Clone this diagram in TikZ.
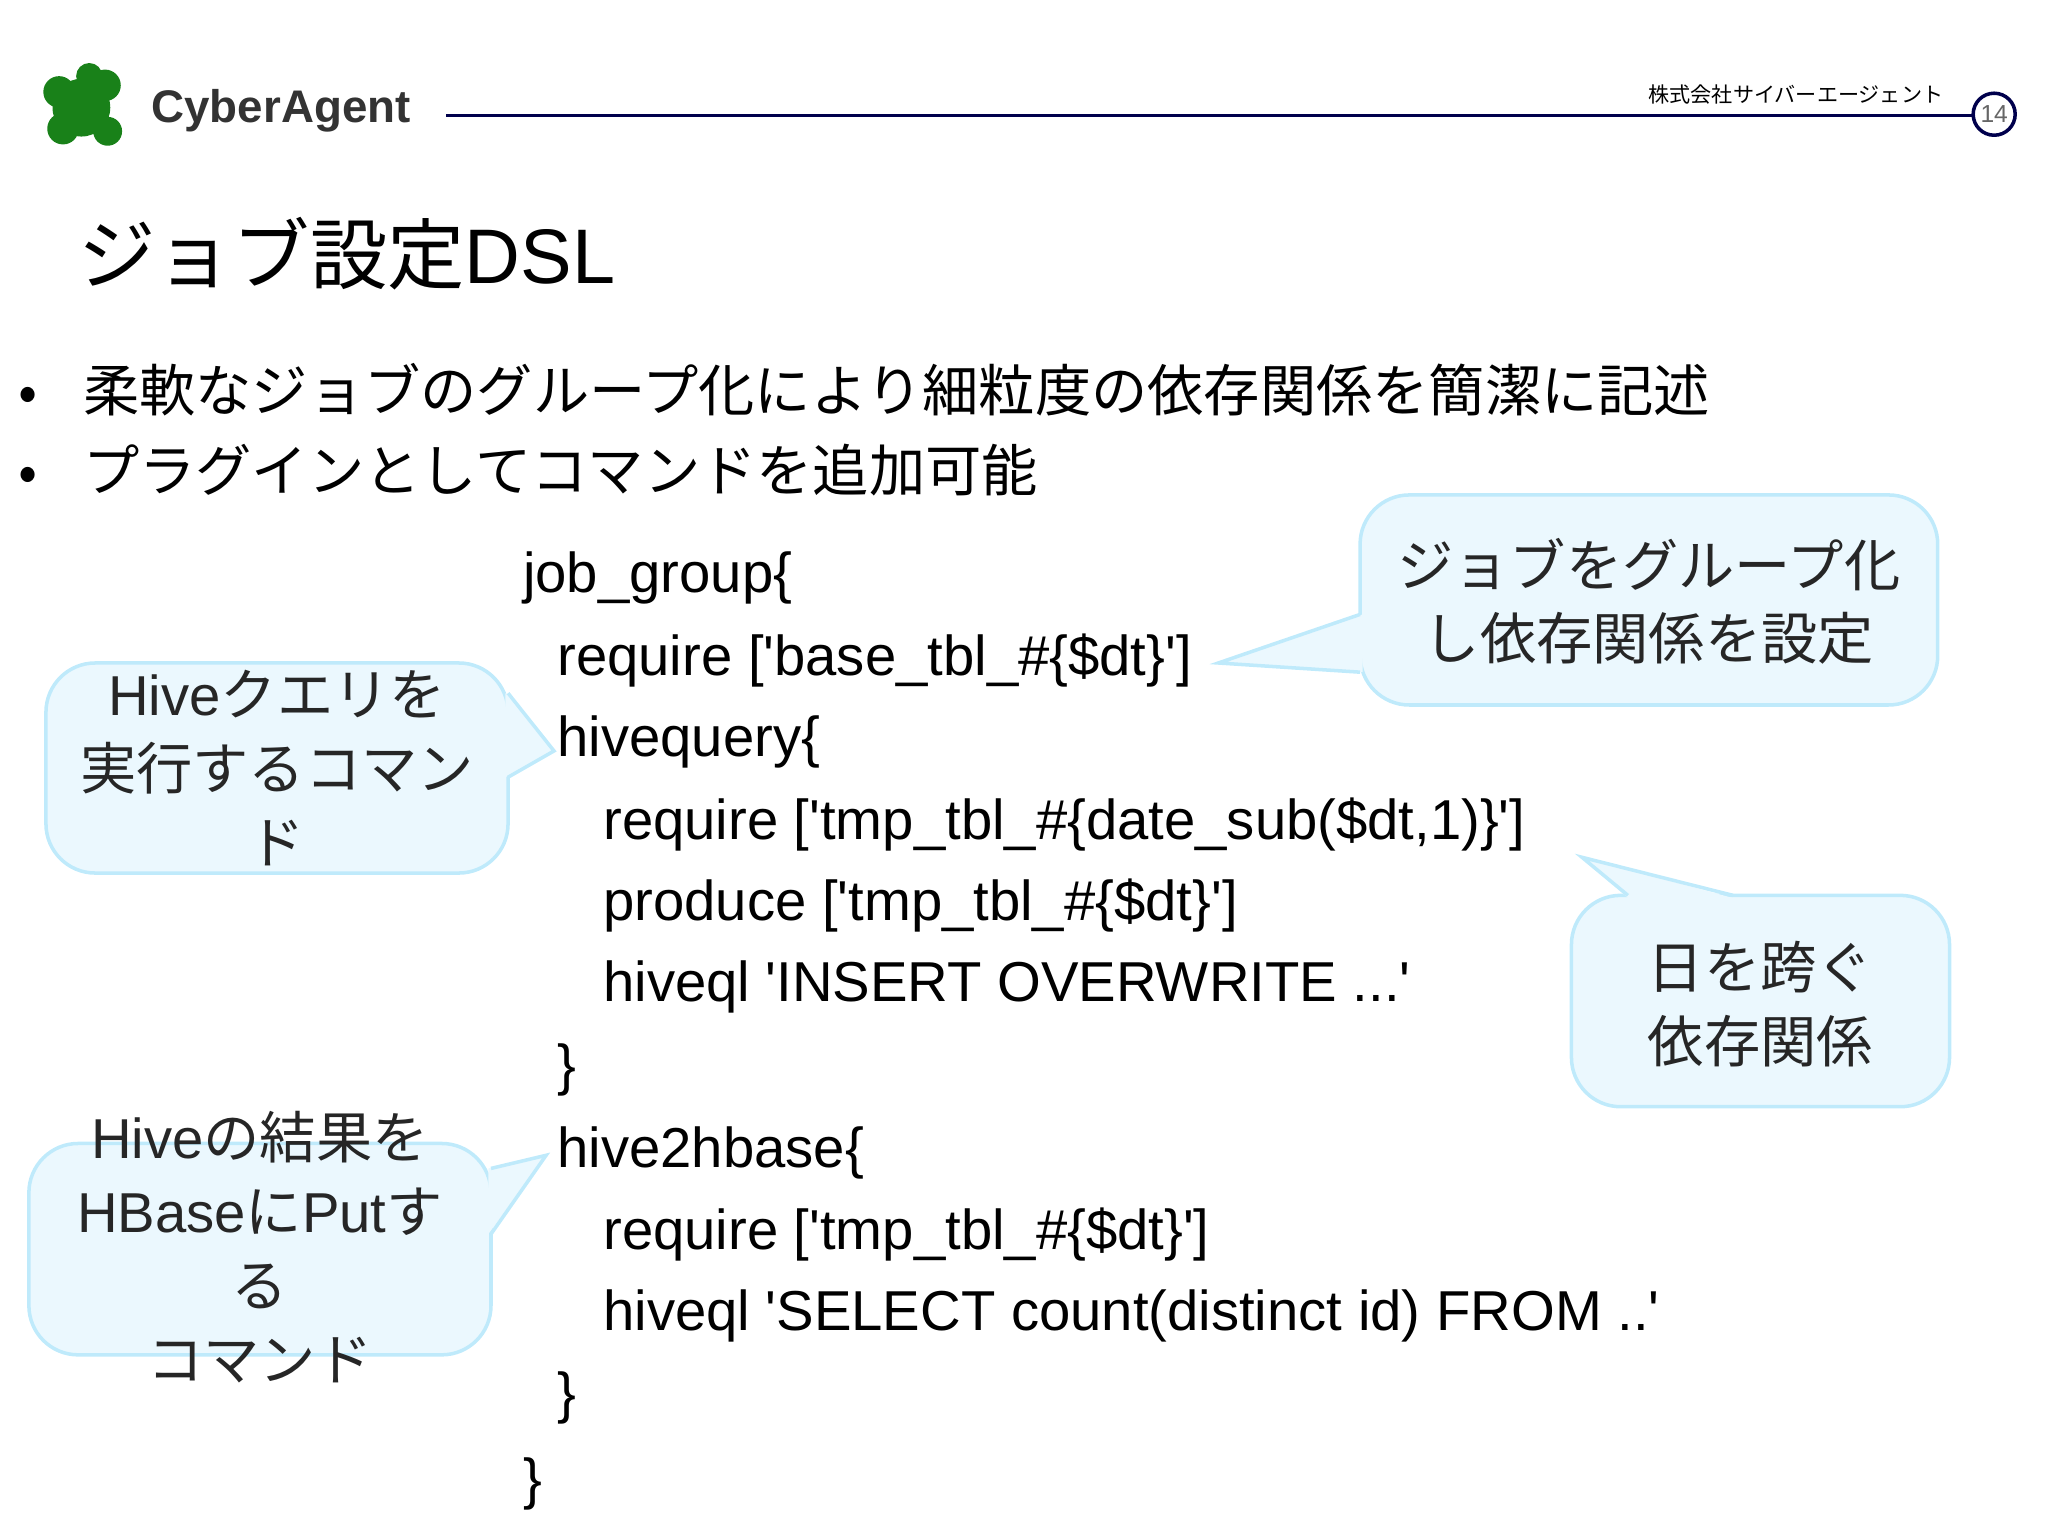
\documentclass[tikz,border=0pt]{standalone}
\usepackage{fontspec}
\setmainfont{Liberation Sans}
\newfontfamily\jp{Noto Sans CJK JP}
\newcommand\qq{\textquotesingle}
\begin{document}
\begin{tikzpicture}[x=0.013128cm,y=-0.013128cm,
 code/.style={anchor=west,inner sep=0pt,font=\fontsize{16}{18}\selectfont},
 cbox/.style={draw=cyan!25,line width=1pt,fill=cyan!8,rounded corners=14pt},
 ctext/.style={align=center,font=\jp\fontsize{16}{21}\selectfont,text=black!85}]
\useasboundingbox (0,0) rectangle (1560,1170);
% header
\fill[green!45!black!90] (62,82) circle (22) (45,70) circle (12) (80,65) circle (12) (48,98) circle (12) (82,100) circle (11) (68,58) circle (10);
\node[anchor=west,font=\bfseries\fontsize{13}{13}\selectfont,text=black!80] (logo) at (106,84) {CyberAgent};
\draw[blue!30!black,line width=1pt] (340,88) -- (1502,88);
\node[font=\jp\fontsize{6}{6}\selectfont] (corp) at (1368,72) {株式会社サイバーエージェント};
\node[circle,draw=blue!30!black,line width=1pt,minimum size=0.42cm,inner sep=0pt,font=\fontsize{7}{7}\selectfont,text=black!60] (pg) at (1519,87) {14};
% title
\node[anchor=west,font=\jp\fontsize{22}{22}\selectfont] (title) at (50,193) {ジョブ設定\fontspec{Liberation Sans}DSL};
\node[anchor=west,font=\jp\fontsize{16}{16}\selectfont] (b1) at (5,297) {•\hspace{0.8em}柔軟なジョブのグループ化により細粒度の依存関係を簡潔に記述};
\node[anchor=west,font=\jp\fontsize{16}{16}\selectfont] (b2) at (5,358) {•\hspace{0.8em}プラグインとしてコマンドを追加可能};
% code
\node[code] (c1) at (398,440) {job\_group\{};
\node[code] (c2) at (424,503) {require [\qq base\_tbl\_\#\{\$dt\}\qq]};
\node[code] (c3) at (424,565) {hivequery\{};
\node[code] (c4) at (459,628) {require [\qq tmp\_tbl\_\#\{date\_sub(\$dt,1)\}\qq]};
\node[code] (c5) at (459,690) {produce [\qq tmp\_tbl\_\#\{\$dt\}\qq]};
\node[code] (c6) at (459,752) {hiveql \qq INSERT OVERWRITE ...\qq};
\node[code] (c7) at (424,815) {\}};
\node[code] (c8) at (424,878) {hive2hbase\{};
\node[code] (c9) at (459,940) {require [\qq tmp\_tbl\_\#\{\$dt\}\qq]};
\node[code] (c10) at (459,1002) {hiveql \qq SELECT count(distinct id) FROM ..\qq};
\node[code] (c11) at (424,1065) {\}};
\node[code] (c12) at (398,1130) {\}};
% callouts
\draw[cbox] (1036,377) rectangle (1476,537);
\fill[cyan!8] (1038,468) -- (928,505) -- (1038,512) -- cycle;
\draw[cyan!25,line width=1pt] (1036,468) -- (928,505) -- (1036,512);
\node[ctext] (t1) at (1256,458) {ジョブをグループ化\\し依存関係を設定};
\draw[cbox] (35,505) rectangle (387,665);
\fill[cyan!8] (385,528) -- (422,572) -- (385,592) -- cycle;
\draw[cyan!25,line width=1pt] (387,528) -- (422,572) -- (387,592);
\node[ctext] (t2) at (211,585) {\fontspec{Liberation Sans}Hive\jp クエリを\\実行するコマン\\ド};
\draw[cbox] (1197,682) rectangle (1485,843);
\fill[cyan!8] (1240,684) -- (1205,653) -- (1320,684) -- cycle;
\draw[cyan!25,line width=1pt] (1240,682) -- (1205,653) -- (1320,682);
\node[ctext] (t3) at (1341,765) {日を跨ぐ\\依存関係};
\draw[cbox] (22,871) rectangle (374,1032);
\fill[cyan!8] (372,890) -- (416,880) -- (372,940) -- cycle;
\draw[cyan!25,line width=1pt] (374,890) -- (416,880) -- (374,940);
\node[ctext] (t4) at (198,950) {\fontspec{Liberation Sans}Hive\jp の結果を\\\fontspec{Liberation Sans}HBase\jp に\fontspec{Liberation Sans}Put\jp す\\る\\コマンド};
\end{tikzpicture}
\end{document}
